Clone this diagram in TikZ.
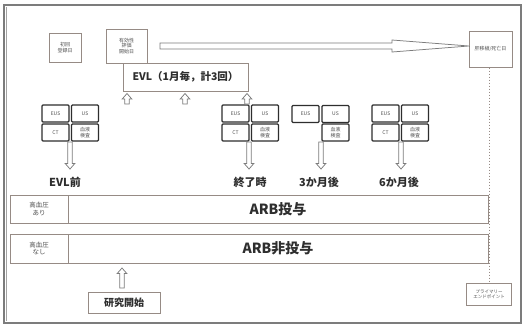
\documentclass[tikz,border=0pt]{standalone}
\usepackage{fontspec}
\setmainfont{Noto Sans CJK JP}
\usetikzlibrary{calc}
\definecolor{bx}{HTML}{968B85}
\definecolor{fr}{HTML}{7C7C7C}
\definecolor{tx}{HTML}{2E2E2E}
\definecolor{sm}{HTML}{505050}
\newcommand{\hollowarrow}[2]{%
  \draw[harrow] let \p1=(#1), \p2=(#2), \n1={sign(\y2-\y1)} in
    (\x1-2.2pt,\y1) -- (\x1-2.2pt,\y2-5.5pt*\n1) -- (\x1-4.8pt,\y2-5.5pt*\n1) -- (\x1,\y2)
    -- (\x1+4.8pt,\y2-5.5pt*\n1) -- (\x1+2.2pt,\y2-5.5pt*\n1) -- (\x1+2.2pt,\y1) -- cycle;}
\begin{document}
\begin{tikzpicture}[x=1pt,y=-1pt,
  gbox/.style={draw=bx,line width=1pt,fill=white,inner sep=0pt,align=center,text=sm},
  exam/.style={draw=tx,line width=1.3pt,rounded corners=1pt,fill=white,inner sep=0pt,
    minimum width=27pt,minimum height=17pt,font=\fontsize{5}{5.5}\selectfont,text=sm,align=center},
  harrow/.style={draw=fr,line width=0.75pt,fill=white},
  lbl/.style={font=\fontsize{11}{12}\bfseries\selectfont,text=tx},
  tiny5/.style={font=\fontsize{5}{5.6}\selectfont}]
\useasboundingbox (0,0) rectangle (524,327);
\fill[white] (0,0) rectangle (524,327);
% outer frame
\draw[fr,line width=1.3pt] (4,5) rectangle (521,323);
\draw[fr!70,line width=0.6pt] (6.5,7) -- (6.5,321);

% top small boxes
\node[gbox,tiny5,minimum width=32pt,minimum height=29pt] (reg) at (65,47.5) {初回\\登録日};
\node[gbox,tiny5,minimum width=41pt,minimum height=34pt] (evs) at (126.5,46) {有効性\\評価\\開始日};
\node[gbox,tiny5,minimum width=43pt,minimum height=36pt] (dth) at (490.5,49) {肝移植/死亡日};
\node[gbox,minimum width=125pt,minimum height=28pt,font=\fontsize{10.5}{11}\bfseries\selectfont,text=tx] (evl) at (185.5,77) {EVL（1月毎，計3回）};

% long hollow arrow
\coordinate (la) at (160,46);
\coordinate (lb) at (469,46);
\draw[harrow] let \p1=(la), \p2=(lb) in
  (\x1,\y1+3pt) -- (\x2-77pt,\y1+3pt) -- (\x2-77pt,\y1+6pt) -- (\x2,\y2)
  -- (\x2-77pt,\y1-6pt) -- (\x2-77pt,\y1-3pt) -- (\x1,\y1-3pt) -- cycle;
\draw[fr,line width=0.75pt] (lb) -- (lb-|dth.west);

% exam groups
\foreach \g/\x in {a/42,b/222,d/372}{
  \node[exam] (\g1) at (\x+13.5,113.5) {EUS};
  \node[exam] (\g2) at (\x+43,113.5) {US};
  \node[exam] (\g3) at (\x+13.5,132.5) {CT};
  \node[exam] (\g4) at (\x+43,132.5) {血液\\検査};
}
\node[exam] (c1) at (305.5,114) {EUS};
\node[exam] (c2) at (335.5,114) {US};
\node[exam] (c4) at (335.5,132.5) {血液\\検査};

% time labels
\node[lbl] (t1) at (65,182) {EVL前};
\node[lbl] (t2) at (250,182) {終了時};
\node[lbl] (t3) at (319,182) {3か月後};
\node[lbl] (t4) at (399,182) {6か月後};

% down arrows
\coordinate (da) at (70,142);   \coordinate (ta) at (70,169);
\coordinate (db) at (249,142);  \coordinate (tb) at (249,169);
\coordinate (dc) at (321,142);  \coordinate (tc) at (321,169);
\coordinate (dd) at (401,142);  \coordinate (td) at (401,169);
\hollowarrow{da}{ta}
\hollowarrow{db}{tb}
\hollowarrow{dc}{tc}
\hollowarrow{dd}{td}

% up arrows to EVL
\coordinate (u1) at (127,104); \coordinate (v1) at (127,93.5);
\coordinate (u2) at (185,104); \coordinate (v2) at (185,93.5);
\coordinate (u3) at (247,104); \coordinate (v3) at (247,93.5);
\hollowarrow{u1}{v1}
\hollowarrow{u2}{v2}
\hollowarrow{u3}{v3}

% rows
\node[gbox,minimum width=420pt,minimum height=28pt,font=\fontsize{14}{15}\bfseries\selectfont,text=tx] (arb1) at (278,209) {ARB投与};
\node[gbox,font=\fontsize{6.5}{7.5}\selectfont,minimum width=58pt,minimum height=28pt] (h1) at (39,209) {高血圧\\あり};
\node[gbox,minimum width=420pt,minimum height=29pt,font=\fontsize{14}{15}\bfseries\selectfont,text=tx] (arb2) at (278,248.5) {ARB非投与};
\node[gbox,font=\fontsize{6.5}{7.5}\selectfont,minimum width=58pt,minimum height=29pt] (h2) at (39,248.5) {高血圧\\なし};

% study start
\node[gbox,minimum width=72pt,minimum height=21pt,font=\fontsize{10}{11}\bfseries\selectfont,text=tx] (st) at (124,302.5) {研究開始};
\coordinate (s1) at (122,288); \coordinate (s2) at (122,268);
\hollowarrow{s1}{s2}

% primary endpoint
\node[gbox,font=\fontsize{4.5}{5.5}\selectfont,minimum width=45pt,minimum height=22pt] (pe) at (489,294) {プライマリー\\エンドポイント};
\draw[bx,line width=0.8pt,dash pattern=on 1.5pt off 1.5pt] (dth.south-|pe.north) -- (pe.north);
\end{tikzpicture}
\end{document}
